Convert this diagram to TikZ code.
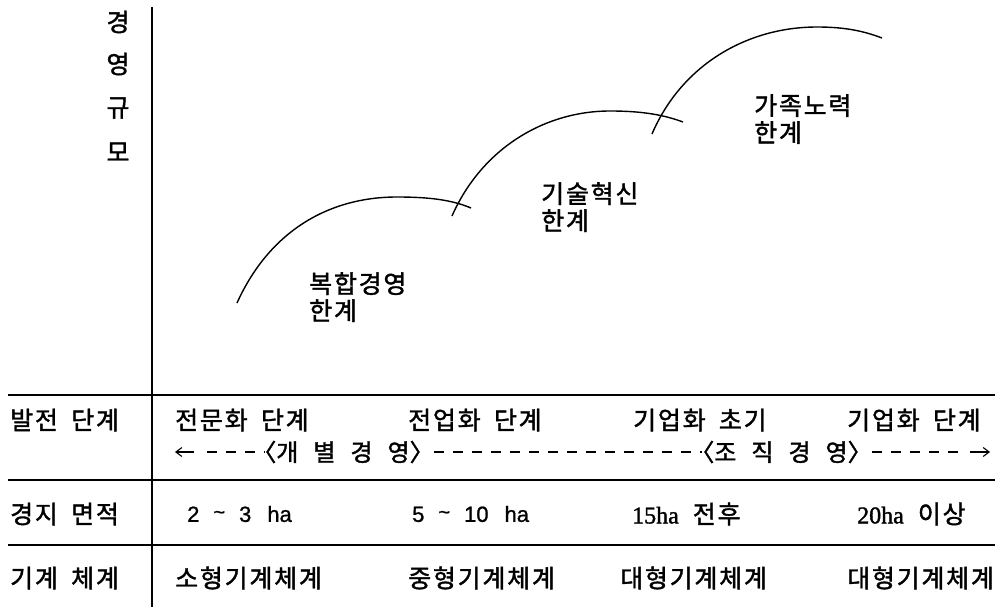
\documentclass[tikz,border=0pt]{standalone}
\usepackage{fontspec}
\setmainfont{Noto Sans CJK KR}[LetterSpace=7, WordSpace=1.8, FakeBold=1.5]
\newfontfamily\kosingle{Noto Sans CJK KR}[FakeBold=1.5]
\newfontfamily\latf{Liberation Serif}[FakeBold=1.5]
\newfontfamily\lats{Liberation Sans}[FakeBold=1]
\usetikzlibrary{arrows.meta}
\begin{document}
\begin{tikzpicture}[x=1pt,y=-1pt,
  ko/.style={font=\fontsize{25}{27}\selectfont, inner sep=0pt},
  cell/.style={ko, anchor=west},
  ylab/.style={font=\kosingle\fontsize{25}{27}\selectfont, inner sep=0pt, anchor=center},
  lab/.style={ko, anchor=north west, align=left},
  axisline/.style={line width=1.6pt},
  rule/.style={line width=1.5pt},
  curve/.style={line width=1.4pt},
  dashline/.style={line width=1.1pt, dash pattern=on 10pt off 9pt},
  tipline/.style={line width=1.1pt, -{Straight Barb[length=6pt,width=9pt]}},
  brk/.style={font=\kosingle\fontsize{24}{26}\selectfont, inner sep=0pt, anchor=center},
]
\useasboundingbox (0,0) rectangle (997,607);

% vertical axis
\coordinate (axT) at (152,7);
\coordinate (axB) at (152,607);
\draw[axisline] (axT) -- (axB);

% y-axis label
\node[ylab] (y1) at (118,22) {경};
\node[ylab] (y2) at (118,64) {영};
\node[ylab] (y3) at (118,108) {규};
\node[ylab] (y4) at (118,152) {모};

% growth curves
\coordinate (c1s) at (237,303);
\coordinate (c1p) at (397,197);
\coordinate (c1e) at (471,208);
\draw[curve] (c1s) .. controls (270,230) and (330,197) .. (c1p) .. controls (430,197) and (452,200) .. (c1e);
\coordinate (c2s) at (452,216);
\coordinate (c2p) at (610,111);
\coordinate (c2e) at (683,122);
\draw[curve] (c2s) .. controls (482,148) and (545,111) .. (c2p) .. controls (643,111) and (664,115) .. (c2e);
\coordinate (c3s) at (652,134);
\coordinate (c3p) at (817,27);
\coordinate (c3e) at (882,38);
\draw[curve] (c3s) .. controls (682,64) and (748,27) .. (c3p) .. controls (848,27) and (866,32) .. (c3e);

% curve labels
\node[lab] (l1) at (309,272) {복합경영\\한계};
\node[lab] (l2) at (541,182) {기술혁신\\한계};
\node[lab] (l3) at (754,94) {가족노력\\한계};

% table rules
\coordinate (r1l) at (8,395);  \coordinate (r1r) at (995,395);
\coordinate (r2l) at (8,480);  \coordinate (r2r) at (995,480);
\coordinate (r3l) at (8,545);  \coordinate (r3r) at (995,545);
\draw[rule] (r1l) -- (r1r);
\draw[rule] (r2l) -- (r2r);
\draw[rule] (r3l) -- (r3r);

% row headers
\node[cell] (h1) at (10,420) {발전 단계};
\node[cell] (h2) at (10,514) {경지 면적};
\node[cell] (h3) at (10,578) {기계 체계};

% row 1
\node[cell] (a1) at (175,420) {전문화 단계};
\node[cell] (a2) at (408,420) {전업화 단계};
\node[cell] (a3) at (633,420) {기업화 초기};
\node[cell] (a4) at (847,420) {기업화 단계};

% management type arrow
\node[brk] (g1) at (349,452) {\hspace{-0.5em}〈개\hspace{15pt}별\hspace{15pt}경\hspace{15pt}영〉\hspace{-0.5em}};
\node[brk] (g2) at (787,452) {\hspace{-0.5em}〈조\hspace{15pt}직\hspace{15pt}경\hspace{15pt}영〉\hspace{-0.5em}};
\coordinate (aL) at (175,452);
\coordinate (aLs) at (194,452);
\coordinate (dL) at (207,452);
\coordinate (aR) at (990,452);
\coordinate (aRs) at (970,452);
\coordinate (dR) at (962,452);
\draw[tipline] (aLs) -- (aL);
\draw[dashline] (dL) -- (g1.west);
\draw[dashline] (g1.east) -- (g2.west);
\draw[dashline] (g2.east) -- (dR);
\draw[tipline] (aRs) -- (aR);

% row 2
\node[cell] (b1) at (187,514) {\lats\fontsize{22}{24}\selectfont 2\hspace{14pt}\raisebox{3pt}{\fontsize{20}{22}\selectfont\textasciitilde}\hspace{14pt}3\hspace{16pt}ha};
\node[cell] (b2) at (412,514) {\lats\fontsize{22}{24}\selectfont 5\hspace{14pt}\raisebox{3pt}{\fontsize{20}{22}\selectfont\textasciitilde}\hspace{14pt}10\hspace{16pt}ha};
\node[cell] (b3) at (632,514) {{\latf\fontsize{24}{24}\selectfont 15ha}\hspace{14pt}전후};
\node[cell] (b4) at (857,514) {{\latf\fontsize{24}{24}\selectfont 20ha}\hspace{14pt}이상};

% row 3
\node[cell] (m1) at (175,578) {소형기계체계};
\node[cell] (m2) at (408,578) {중형기계체계};
\node[cell] (m3) at (620,578) {대형기계체계};
\node[cell] (m4) at (847,578) {대형기계체계};
\end{tikzpicture}
\end{document}
